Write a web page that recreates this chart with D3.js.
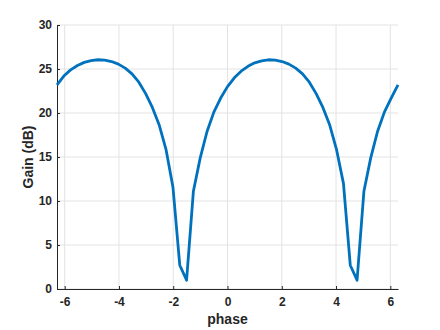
<!DOCTYPE html>
<html>
<head>
<meta charset="utf-8">
<script src="https://cdn.jsdelivr.net/npm/d3@7"></script>
<style>
  html, body { margin: 0; padding: 0; background: #fff; }
  svg text { font-family: "Liberation Sans", Arial, sans-serif; font-weight: bold; fill: #262626; }
</style>
</head>
<body>
<div id="chart"></div>
<script>
// sampled phase (rad) and measured gain (dB)
const phase = [-6.283, -6.032, -5.781, -5.529, -5.278, -5.027, -4.775, -4.524, -4.273, -4.021,
    -3.770, -3.519, -3.267, -3.016, -2.765, -2.513, -2.262, -2.011, -1.759, -1.508,
    -1.257, -1.005, -0.754, -0.503, -0.251, 0, 0.251, 0.503, 0.754, 1.005,
    1.257, 1.508, 1.759, 2.011, 2.262, 2.513, 2.765, 3.016, 3.267, 3.519,
    3.770, 4.021, 4.273, 4.524, 4.775, 5.027, 5.278, 5.529, 5.781, 6.032, 6.283];
const gain = [23.2, 24.2, 24.9, 25.4, 25.75, 25.95, 26.05, 26.0, 25.85, 25.55,
    25.1, 24.45, 23.5, 22.2, 20.6, 18.6, 15.8, 11.6, 2.7, 1.0,
    11.1, 14.9, 17.9, 20.1, 21.7, 23.0, 24.0, 24.75, 25.3, 25.7,
    25.93, 26.05, 26.0, 25.85, 25.55, 25.1, 24.45, 23.5, 22.2, 20.6,
    18.6, 15.8, 12.0, 2.7, 1.0, 11.1, 14.9, 17.9, 20.1, 21.7, 23.2];
const xTicks = [-6, -4, -2, 0, 2, 4, 6];
const yTicks = [0, 5, 10, 15, 20, 25, 30];

const width = 440, height = 330;
const margin = {top: 25, right: 42, bottom: 41, left: 57};

const svg = d3.select("#chart")
    .append("svg")
    .attr("width", width)
    .attr("height", height);

const x = d3.scaleLinear().domain([-2 * Math.PI, 2 * Math.PI]).range([margin.left, width - margin.right]);
const y = d3.scaleLinear().domain([0, 30]).range([height - margin.bottom, margin.top]);

// grid
svg.append("g").selectAll("line")
    .data(xTicks).enter().append("line")
    .attr("x1", d => x(d)).attr("x2", d => x(d))
    .attr("y1", y(0)).attr("y2", y(30))
    .attr("stroke", "#e3e3e3").attr("stroke-width", 1);

svg.append("g").selectAll("line")
    .data(yTicks).enter().append("line")
    .attr("x1", x.range()[0]).attr("x2", x.range()[1])
    .attr("y1", d => y(d)).attr("y2", d => y(d))
    .attr("stroke", "#e3e3e3").attr("stroke-width", 1);

// axes, ticks pointing inward like matlab, plain hyphen for minus
const fmt = d => String(d);
const xAxis = svg.append("g")
    .attr("transform", `translate(0,${y(0)})`)
    .call(d3.axisBottom(x).tickValues(xTicks).tickFormat(fmt).tickSizeInner(-3).tickSizeOuter(0).tickPadding(8));
const yAxis = svg.append("g")
    .attr("transform", `translate(${x.range()[0]},0)`)
    .call(d3.axisLeft(y).tickValues(yTicks).tickFormat(fmt).tickSizeInner(-3).tickSizeOuter(0).tickPadding(5));

[xAxis, yAxis].forEach(a => {
    a.select(".domain").attr("stroke", "#262626");
    a.selectAll(".tick line").attr("stroke", "#262626");
    a.selectAll("text").style("font-size", "12px").attr("fill", "#262626");
});

// curve
const line = d3.line()
    .x((d, i) => x(phase[i]))
    .y(d => y(d));

svg.append("path")
    .datum(gain)
    .attr("fill", "none")
    .attr("stroke", "#0072bd")
    .attr("stroke-width", 2.8)
    .attr("stroke-linejoin", "round")
    .attr("d", line);

// labels
svg.append("text")
    .attr("x", (x.range()[0] + x.range()[1]) / 2)
    .attr("y", 324)
    .attr("text-anchor", "middle")
    .style("font-size", "14px")
    .text("phase");

svg.append("text")
    .attr("transform", `translate(33,${(y(0) + y(30)) / 2}) rotate(-90)`)
    .attr("text-anchor", "middle")
    .style("font-size", "14px")
    .text("Gain (dB)");
</script>
</body>
</html>
